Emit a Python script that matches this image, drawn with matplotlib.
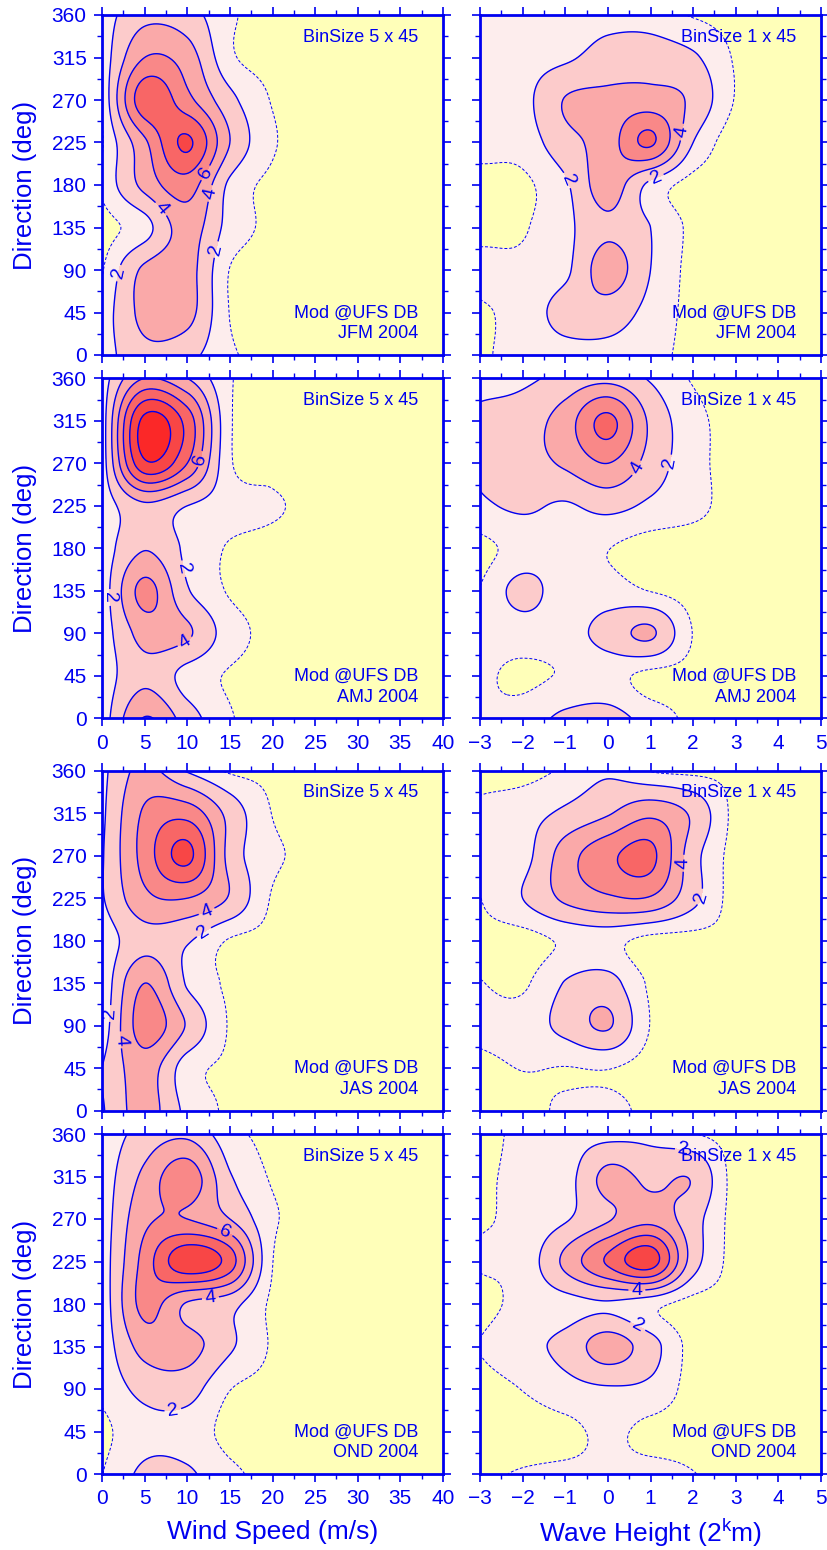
import numpy as np
import matplotlib
matplotlib.use('Agg')
import matplotlib.pyplot as plt
from matplotlib.ticker import MultipleLocator

plt.rcParams['font.family'] = ['Liberation Sans', 'DejaVu Sans']
plt.rcParams['mathtext.fontset'] = 'custom'
plt.rcParams['mathtext.rm'] = 'Liberation Sans'
plt.rcParams['mathtext.it'] = 'Liberation Sans:italic'

# ---------------- data (percent per bin) ----------------
directions = [0, 45, 90, 135, 180, 225, 270, 315, 360]
wind_nodes = [0, 5, 10, 15, 20, 25, 30, 35, 40]
wave_nodes = [-3, -2, -1, 0, 1, 2, 3, 4, 5]
seasons = ['JFM', 'AMJ', 'JAS', 'OND']

# rows: direction 0..360 ; columns: wind speed 0..40
wind_jfm = [
    [1.1, 3.4, 2.6, 0.5, -0.2, 0, 0, 0, 0],
    [0.9, 4.6, 4.7, 0.2, -0.2, 0, 0, 0, 0],
    [0.1, 4.4, 4.8, 0.2, -0.2, 0, 0, 0, 0],
    [-0.4, 1.3, 4.9, 1.3, -0.1, 0, 0, 0, 0],
    [0.5, 4.6, 7.0, 1.6, -0.1, 0, 0, 0, 0],
    [0.1, 5.6, 10.3, 4.0, 0.45, 0, 0, 0, 0],
    [0.4, 9.3, 6.6, 2.6, 0.15, 0, 0, 0, 0],
    [0.8, 6.0, 5.0, 0.6, -0.2, 0, 0, 0, 0],
    [1.1, 3.3, 2.8, 0.5, -0.2, 0, 0, 0, 0],
]
wind_amj = [
    [0.9, 6.1, 3.0, 0.4, -0.1, 0, 0, 0, 0],
    [0.9, 3.5, 1.3, 0.1, -0.1, 0, 0, 0, 0],
    [0.9, 4.8, 4.3, 1.0, -0.1, 0, 0, 0, 0],
    [0.8, 6.6, 2.2, 0.1, -0.1, 0, 0, 0, 0],
    [0.9, 3.9, 1.6, 0.1, -0.1, 0, 0, 0, 0],
    [0.9, 3.6, 2.0, 1.0, 0.4, 0, 0, 0, 0],
    [0.9, 11.6, 8.0, 0.5, -0.1, 0, 0, 0, 0],
    [0.9, 12.6, 9.2, 0.5, -0.2, 0, 0, 0, 0],
    [1.0, 6.0, 4.0, 0.4, -0.1, 0, 0, 0, 0],
]
wind_jas = [
    [1.8, 4.8, 1.5, 0.0, -0.1, 0, 0, 0, 0],
    [2.0, 5.0, 1.0, 0.0, -0.1, 0, 0, 0, 0],
    [0.8, 7.0, 3.8, 0.1, -0.1, 0, 0, 0, 0],
    [0.5, 6.0, 1.8, 0.0, -0.1, 0, 0, 0, 0],
    [0.8, 3.3, 2.2, 0.1, -0.1, 0, 0, 0, 0],
    [1.8, 5.5, 6.0, 3.8, 0.1, 0, 0, 0, 0],
    [1.8, 6.8, 10.5, 3.3, 0.6, 0, 0, 0, 0],
    [1.6, 6.3, 7.2, 3.3, 0.2, 0, 0, 0, 0],
    [1.5, 4.6, 1.8, 0.0, -0.1, 0, 0, 0, 0],
]
wind_ond = [
    [0.2, 2.4, 2.3, 0.6, -0.1, 0, 0, 0, 0],
    [-0.2, 1.4, 1.2, -0.2, -0.1, 0, 0, 0, 0],
    [0.6, 2.6, 2.8, 0.3, -0.1, 0, 0, 0, 0],
    [0.7, 4.8, 4.8, 2.3, 0.1, 0, 0, 0, 0],
    [0.7, 6.6, 3.8, 2.7, 0.0, 0, 0, 0, 0],
    [0.8, 6.8, 11.5, 9.0, 0.3, 0, 0, 0, 0],
    [0.8, 5.5, 6.0, 4.0, 0.5, 0, 0, 0, 0],
    [0.8, 4.5, 7.2, 2.2, 0.1, 0, 0, 0, 0],
    [0.8, 2.7, 3.5, 0.8, -0.1, 0, 0, 0, 0],
]
# rows: direction 0..360 ; columns: wave height class -3..5
wave_jfm = [
    [0.1, 0.6, 1.1, 1.3, 0.8, -0.2, 0, 0, 0],
    [0.05, 0.8, 2.8, 3.0, 1.4, -0.2, 0, 0, 0],
    [0.7, 0.6, 1.6, 5.0, 2.0, -0.2, 0, 0, 0],
    [-0.2, 0.1, 1.5, 3.6, 2.0, -0.1, 0, 0, 0],
    [-0.4, -0.1, 1.7, 5.0, 1.5, -0.3, 0, 0, 0],
    [0.9, 1.0, 3.3, 5.0, 8.3, 2.0, -0.5, 0, 0],
    [0.8, 1.4, 4.1, 4.5, 4.8, 3.6, 0.15, 0, 0],
    [0.8, 1.2, 1.7, 2.8, 3.0, 2.3, 0.1, 0, 0],
    [0.7, 0.8, 1.0, 1.3, 1.2, 0.1, -0.3, 0, 0],
]
wave_amj = [
    [0.3, 0.9, 2.5, 2.8, 1.2, -0.1, 0, 0, 0],
    [0.5, 0.0, 0.4, 0.8, -0.2, -0.2, 0, 0, 0],
    [0.6, 1.0, 1.2, 2.8, 4.3, 0.2, -0.2, 0, 0],
    [0.3, 2.6, 1.0, 1.0, 0.2, -0.3, 0, 0, 0],
    [-0.3, 0.9, 1.2, 0.3, -0.4, -0.3, 0, 0, 0],
    [1.7, 2.3, 1.8, 2.6, 1.6, 0.6, -0.1, 0, 0],
    [2.2, 3.2, 4.3, 6.0, 3.2, 0.8, -0.2, 0, 0],
    [2.4, 3.0, 5.0, 8.5, 3.6, 0.8, -0.2, 0, 0],
    [1.3, 1.6, 2.6, 3.3, 1.8, 0.1, -0.3, 0, 0],
]
wave_jas = [
    [-0.4, -0.4, 0.6, 0.8, -0.2, -0.3, 0, 0, 0],
    [-0.2, 0.3, 0.2, 0.3, -0.3, -0.3, 0, 0, 0],
    [0.7, 1.0, 2.6, 4.2, 0.2, -0.3, 0, 0, 0],
    [0.3, 0.0, 2.1, 2.7, 0.0, -0.3, 0, 0, 0],
    [-0.2, -0.4, 0.5, 0.8, -0.3, -0.3, 0, 0, 0],
    [0.2, 2.0, 4.4, 5.7, 5.8, 2.6, -0.4, 0, 0],
    [0.6, 1.3, 5.0, 7.5, 8.5, 2.8, -0.3, 0, 0],
    [0.6, 1.2, 2.4, 3.8, 5.5, 3.6, -0.2, 0, 0],
    [-0.4, -0.4, 0.5, 1.6, 0.1, -0.2, -0.1, 0, 0],
]
wave_ond = [
    [-0.1, 0.4, 0.6, 0.5, 0.8, 0.3, -0.3, 0, 0],
    [-0.5, -0.5, -0.2, 0.6, -0.2, -0.3, 0, 0, 0],
    [-0.4, 0.3, 1.3, 1.8, 1.5, -0.3, 0, 0, 0],
    [0.3, 1.4, 2.6, 5.0, 2.8, -0.3, 0, 0, 0],
    [-0.3, 0.7, 1.3, 1.8, 0.8, -0.3, 0, 0, 0],
    [0.4, 0.8, 4.5, 8.3, 11.0, 3.0, -0.3, 0, 0],
    [0.1, 0.6, 1.8, 3.8, 5.3, 2.8, -0.3, 0, 0],
    [0.0, 0.6, 1.2, 4.6, 3.5, 3.8, -0.4, 0, 0],
    [-0.3, 0.6, 1.0, 1.3, 1.4, 0.3, -0.3, 0, 0],
]
wind_fields = [wind_jfm, wind_amj, wind_jas, wind_ond]
wave_fields = [wave_jfm, wave_amj, wave_jas, wave_ond]

# ---------------- styling ----------------
BLUE = '#0000F0'
L0 = 0.25
levels_fill = [-50, L0, 2, 4, 6, 8, 10, 12, 14, 100]
fill_colors = ['#FFFFB9', '#FDEDED', '#FCCBCB', '#FAA9A9', '#F98888',
               '#F86666', '#F84646', '#FB2828', '#FF1010']
line_levels = [2, 4, 6, 8, 10, 12, 14]

# label positions (data coords) for contour labels
wind_label_pos = [
    [(2.3, 86), (6.6, 152), (12.3, 192), (12.7, 171), (13.7, 111)],
    [(11.7, 274), (8.8, 157), (1.2, 128), (10.0, 77)],
    [(12.5, 206), (12.3, 184), (0.8, 103), (2.3, 75)],
    [(14.1, 250), (12.7, 188), (8.2, 75)],
]
wave_label_pos = [
    [(-1.0, 184), (1.74, 236), (1.15, 185)],
    [(0.6, 267), (1.38, 271)],
    [(1.77, 262), (2.13, 227)],
    [(0.68, 193), (0.72, 158), (1.77, 343)],
]


def cubic_matrix(nodes, fine):
    nodes = np.asarray(nodes, float)
    n = len(nodes)
    h = nodes[1] - nodes[0]
    t = (fine - nodes[0]) / h
    i = np.clip(np.floor(t).astype(int), 0, n - 2)
    s = t - i
    w = [(-s**3 + 2 * s**2 - s) / 2, (3 * s**3 - 5 * s**2 + 2) / 2,
         (-3 * s**3 + 4 * s**2 + s) / 2, (s**3 - s**2) / 2]
    W = np.zeros((len(fine), n + 2))
    rows = np.arange(len(fine))
    for k in range(4):
        np.add.at(W, (rows, i + k), w[k])
    E = np.zeros((n + 2, n))
    E[1:n + 1] = np.eye(n)
    E[0, 0], E[0, 1] = 2, -1
    E[n + 1, n - 1], E[n + 1, n - 2] = 2, -1
    return W @ E


yf = np.linspace(0, 360, 301)
Wy = cubic_matrix(directions, yf)

fig = plt.figure(figsize=(8.27, 15.5), dpi=100)
W_AX = 341 / 827
H_AX = 340 / 1550
lefts = [102 / 827, 480 / 827]
bottoms = [1 - 355 / 1550, 1 - 718.3 / 1550, 1 - 1110.7 / 1550, 1 - 1474 / 1550]


def style_axes(ax, xlim, xmaj, xmin, show_xlabels, show_ylabels):
    ax.set_xlim(*xlim)
    ax.set_ylim(0, 360)
    ax.xaxis.set_major_locator(MultipleLocator(xmaj))
    ax.xaxis.set_minor_locator(MultipleLocator(xmin))
    ax.yaxis.set_major_locator(MultipleLocator(45))
    ax.yaxis.set_minor_locator(MultipleLocator(22.5))
    for sp in ax.spines.values():
        sp.set_color(BLUE)
        sp.set_linewidth(2.0)
        sp.set_zorder(10)
    ax.tick_params(which='both', direction='out', colors=BLUE, top=True, right=True,
                   labelsize=15, labelcolor=BLUE)
    ax.tick_params(which='major', length=6, width=1.2, pad=5)
    ax.tick_params(which='minor', length=3.5, width=1.0)
    ax.tick_params(axis='x', labelbottom=show_xlabels)
    ax.tick_params(axis='y', labelleft=show_ylabels)


for r in range(4):
    for c in range(2):
        ax = fig.add_axes([lefts[c], bottoms[r], W_AX, H_AX])
        if c == 0:
            nodes = wind_nodes
            data = np.array(wind_fields[r], float)
            xf = np.linspace(0, 40, 321)
            labpos = wind_label_pos[r]
            binsize = 'BinSize 5 x 45'
        else:
            nodes = wave_nodes
            data = np.array(wave_fields[r], float)
            xf = np.linspace(-3, 5, 321)
            labpos = wave_label_pos[r]
            binsize = 'BinSize 1 x 45'
        Wx = cubic_matrix(nodes, xf)
        Z = Wy @ data @ Wx.T
        X, Y = np.meshgrid(xf, yf)
        ax.contourf(X, Y, Z, levels=levels_fill, colors=fill_colors)
        ax.contour(X, Y, Z, levels=[L0], colors=BLUE, linewidths=0.7,
                   linestyles=[(0, (3, 2))])
        present = [lv for lv in line_levels if Z.max() > lv]
        cs = ax.contour(X, Y, Z, levels=present, colors=BLUE, linewidths=1.0,
                        linestyles='solid')
        try:
            ax.clabel(cs, levels=[lv for lv in [2, 4, 6] if lv in present],
                      manual=labpos, inline=True, fontsize=14, fmt='%d',
                      colors=BLUE, inline_spacing=3)
        except Exception:
            pass
        style_axes(ax, (nodes[0], nodes[-1]), 5 if c == 0 else 1,
                   2.5 if c == 0 else 0.5, r in (1, 3), c == 0)
        if c == 0:
            ax.set_ylabel('Direction (deg)', fontsize=18.5, color=BLUE)
            ax.yaxis.set_label_coords(-0.19, 0.5)
        if r == 3:
            ax.set_xlabel('Wind Speed (m/s)' if c == 0 else r'Wave Height (2$^{\mathrm{k}}$m)',
                          fontsize=19, color=BLUE)
            ax.xaxis.label.set_va('center')
            ax.xaxis.set_label_coords(0.5, -0.172)
        ax.text(0.927, 0.935, binsize, transform=ax.transAxes, ha='right', va='center',
                fontsize=13, color=BLUE, zorder=12)
        ax.text(0.927, 0.124, 'Mod @UFS DB', transform=ax.transAxes, ha='right',
                va='center', fontsize=13, color=BLUE, zorder=12)
        ax.text(0.927, 0.062, seasons[r] + ' 2004', transform=ax.transAxes, ha='right',
                va='center', fontsize=13, color=BLUE, zorder=12)

fig.savefig('out.png', dpi=100)
